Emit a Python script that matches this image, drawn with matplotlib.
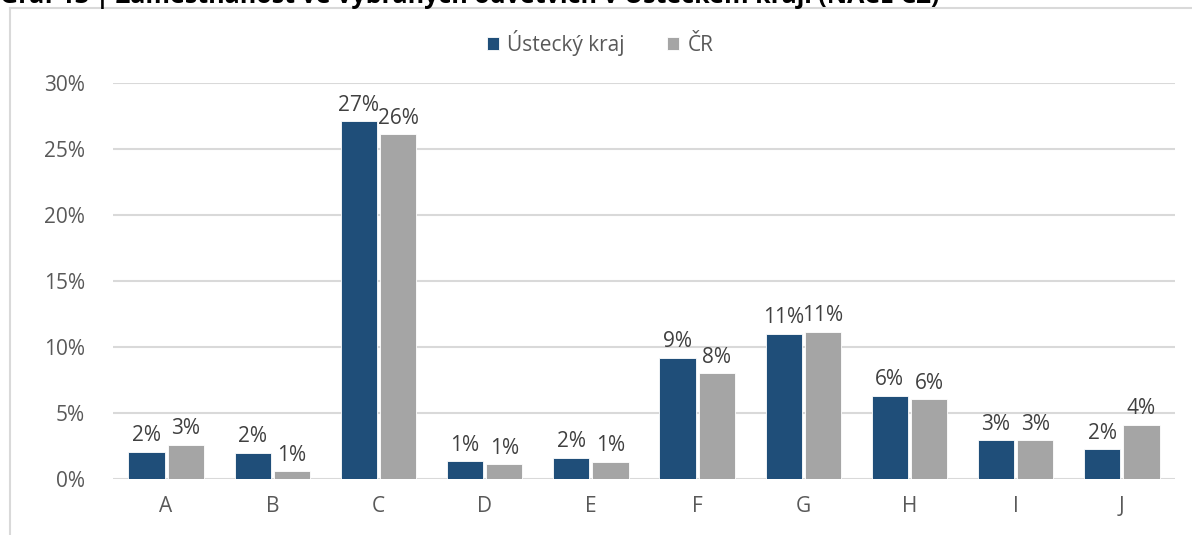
import matplotlib
matplotlib.use("Agg")
import matplotlib.pyplot as plt
from matplotlib.lines import Line2D
from matplotlib.ticker import FuncFormatter, MultipleLocator
import numpy as np

plt.rcParams['font.family'] = ['Open Sans', 'DejaVu Sans']

categories = ["A", "B", "C", "D", "E", "F", "G", "H", "I", "J"]
ustecky = [2.05, 2.0, 27.1, 1.35, 1.6, 9.2, 11.0, 6.3, 2.95, 2.25]
cr = [2.6, 0.6, 26.1, 1.1, 1.3, 8.0, 11.15, 6.05, 2.95, 4.1]
series_names = ["Ústecký kraj", "ČR"]
title = "Graf 13 | Zaměstnanost ve vybraných odvětvích v Ústeckém kraji (NACE CZ)"

BLUE = "#1F4E79"
GREY = "#A5A5A5"
TICK = "#595959"
LABEL = "#404040"
GRID = "#D9D9D9"

W, H = 1192, 535
fig = plt.figure(figsize=(W / 100, H / 100), dpi=100)

# chart frame (left and top edges visible)
fig.add_artist(Line2D([10 / W, 10 / W], [0, 1 - 8 / H], color=GRID, lw=1.5))
fig.add_artist(Line2D([10 / W, 1], [1 - 8 / H, 1 - 8 / H], color=GRID, lw=1.5))

# heading, running off the top edge of the image
fig.text(0 / W, 1 - 3 / H, title, fontsize=18, fontweight='bold', color='black',
         va='baseline', ha='left')

ax = fig.add_axes([113 / W, 1 - 479 / H, (1175 - 113) / W, (479 - 83) / H])
x = np.arange(len(categories))
bw = 0.34
off = 0.185
b1 = ax.bar(x - off, ustecky, bw, color=BLUE, label=series_names[0], zorder=3,
            edgecolor='white', linewidth=0.6)
b2 = ax.bar(x + off, cr, bw, color=GREY, label=series_names[1], zorder=3,
            edgecolor='white', linewidth=0.6)

for bars, vals in ((b1, ustecky), (b2, cr)):
    for rect, v in zip(bars, vals):
        ax.annotate(f"{round(v):.0f}%", (rect.get_x() + rect.get_width() / 2, v),
                    xytext=(0, 4), textcoords='offset points', ha='center',
                    va='bottom', fontsize=15, color=LABEL)

ax.set_xlim(-0.5, len(categories) - 0.5)
ax.set_ylim(0, 30)
ax.yaxis.set_major_locator(MultipleLocator(5))
ax.yaxis.set_major_formatter(FuncFormatter(lambda v, p: f"{v:.0f}%"))
ax.set_xticks(x)
ax.set_xticklabels(categories)
ax.tick_params(axis='both', length=0, labelsize=15, colors=TICK)
ax.tick_params(axis='y', pad=20)
ax.tick_params(axis='x', pad=12)
ax.grid(axis='y', color=GRID, lw=1.5, zorder=0)
for s in ax.spines.values():
    s.set_visible(False)

leg = fig.legend(handles=[b1, b2], labels=series_names, loc='center',
                 bbox_to_anchor=(600 / W, 1 - 43 / H), ncol=2, frameon=False,
                 fontsize=15, handlelength=0.6, handleheight=0.6,
                 handletextpad=0.4, columnspacing=2.0, labelcolor=TICK)

fig.savefig("out.png", dpi=100, facecolor='white')
